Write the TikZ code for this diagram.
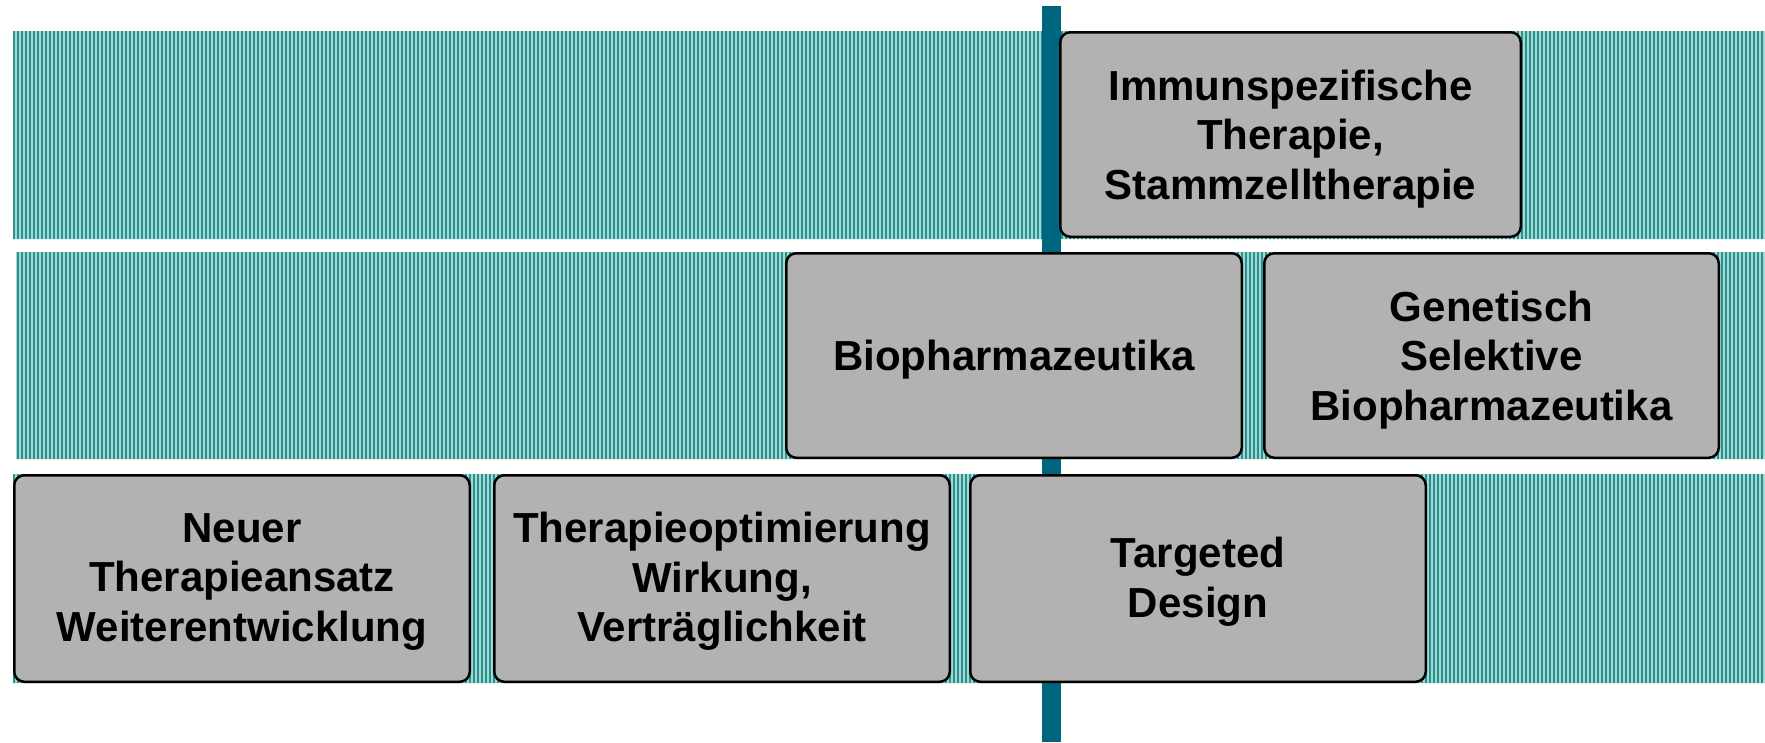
\documentclass[tikz,border=0pt]{standalone}
\usepackage{fontspec}
\setmainfont{Liberation Sans}
\definecolor{boxgray}{HTML}{B2B2B2}
\definecolor{barteal}{HTML}{00667F}
\definecolor{stripebg}{HTML}{A9D6D2}
\definecolor{stripefg}{HTML}{23948F}
\tikzset{
  box/.style={draw=black, line width=2.5pt, fill=boxgray, rounded corners=10pt,
    inner sep=0pt},
  boxtext/.style={align=center, inner sep=0pt, text=black,
    font=\fontsize{42}{49.5}\selectfont\bfseries},
}
\begin{document}
\begin{tikzpicture}[x=1pt,y=-1pt]
\useasboundingbox (0,0) rectangle (1765,742);
% striped bands
\begin{scope}
  \clip (13,31) rectangle (1765,239) (16,252) rectangle (1765,459) (13,474) rectangle (1765,683);
  \fill[stripebg] (0,0) rectangle (1765,742);
  \foreach \x in {14,18,...,1766} {
    \draw[stripefg, line width=2pt] (\x,20) -- (\x,700);
  }
\end{scope}
% vertical bar
\fill[barteal] (1042,6) rectangle (1061,742);
% boxes
\node[box, minimum width=460.5pt, minimum height=204.5pt] (immun) at (1290.5,134.5) {};
\node[box, minimum width=455.5pt, minimum height=204.5pt] (bio) at (1014,355.5) {};
\node[box, minimum width=454.5pt, minimum height=204.5pt] (gen) at (1491.5,355.5) {};
\node[box, minimum width=455.5pt, minimum height=206.5pt] (neu) at (242,578.5) {};
\node[box, minimum width=455.5pt, minimum height=206.5pt] (opt) at (722,578.5) {};
\node[box, minimum width=455.5pt, minimum height=206.5pt] (tgt) at (1198,578.5) {};
% texts
\node[boxtext] (immun-t) at ([yshift=-4.5pt]immun.center) {Immunspezifische\\Therapie,\\Stammzelltherapie};
\node[boxtext] (bio-t) at ([yshift=-4.5pt]bio.center) {Biopharmazeutika};
\node[boxtext] (gen-t) at ([yshift=-4.5pt]gen.center) {Genetisch\\Selektive\\Biopharmazeutika};
\node[boxtext] (neu-t) at ([yshift=-3pt]neu.center) {Neuer\\Therapieansatz\\Weiterentwicklung};
\node[boxtext] (opt-t) at ([yshift=-3pt]opt.center) {Therapieoptimierung\\Wirkung,\\Verträglichkeit};
\node[boxtext] (tgt-t) at ([yshift=-3pt]tgt.center) {Targeted\\Design};
\end{tikzpicture}
\end{document}
